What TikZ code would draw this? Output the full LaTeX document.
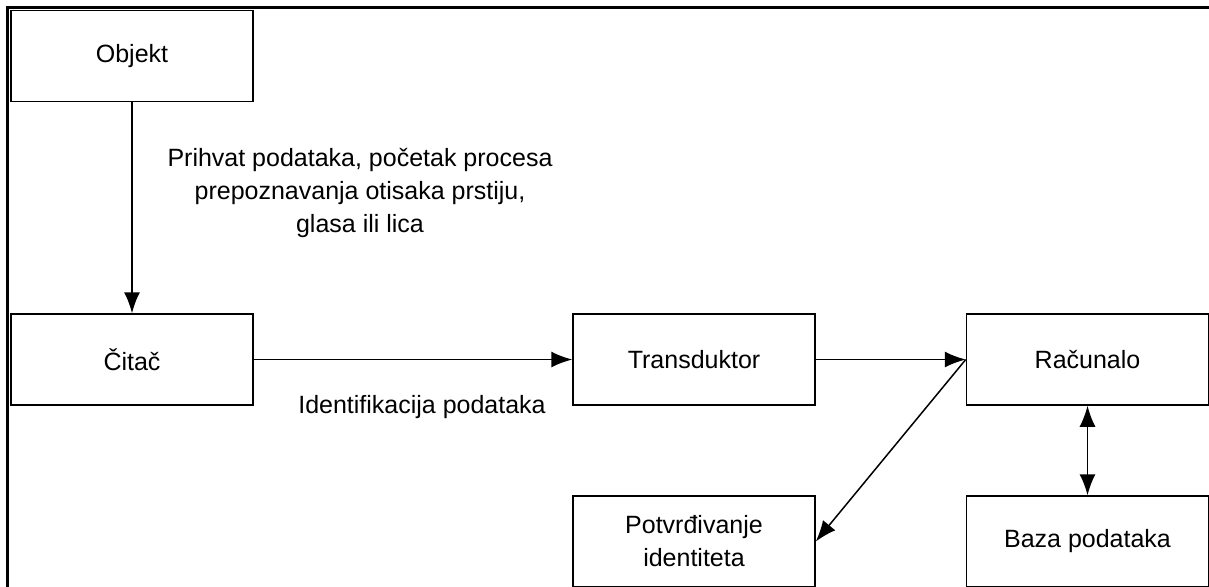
\documentclass[tikz,border=0pt]{standalone}
\usepackage{fontspec}
\setmainfont{Liberation Sans}
\usetikzlibrary{arrows.meta}
\tikzset{
  blok/.style={draw, line width=0.75pt, minimum width=121pt, minimum height=45.5pt,
    align=center, inner sep=0pt},
  vrh/.tip={Latex[length=10.5pt,width=8pt]},
  veza/.style={line width=0.75pt, -vrh}
}
\begin{document}
\begin{tikzpicture}[x=0.5pt,y=-0.5pt,font=\fontsize{12.5}{16.5}\selectfont]
      \useasboundingbox (0,0) rectangle (1209,586);
      \foreach \n/\t/\x/\y in {
        obj/Objekt/132/56,
        cit/Čitač/132/359.5,
        tra/Transduktor/694/359.5,
        rac/Računalo/1087.5/359.5,
        pot/{Potvrđivanje\\identiteta}/694/541.5,
        baz/Baza podataka/1087.5/541.5
      }
      {
        \node[blok] (\n) at (\x,\y) {\t};
      }
      \draw[veza] (obj) -- (cit);
      \draw[veza] (cit) -- (tra);
      \draw[veza] (tra) -- (rac);
      \draw[veza] (rac.west) -- (pot.east);
      \draw[veza, vrh-vrh] (rac) -- (baz);
      \node[align=center] (lbl1) at (360,193) {Prihvat podataka, početak procesa\\prepoznavanja otisaka prstiju,\\glasa ili lica};
      \node (lbl2) at (422,407) {Identifikacija podataka};
      % okvir
      \draw[line width=1.5pt] (7.5,590) -- (7.5,7.5) -- (1212,7.5);
    \end{tikzpicture}
\end{document}
